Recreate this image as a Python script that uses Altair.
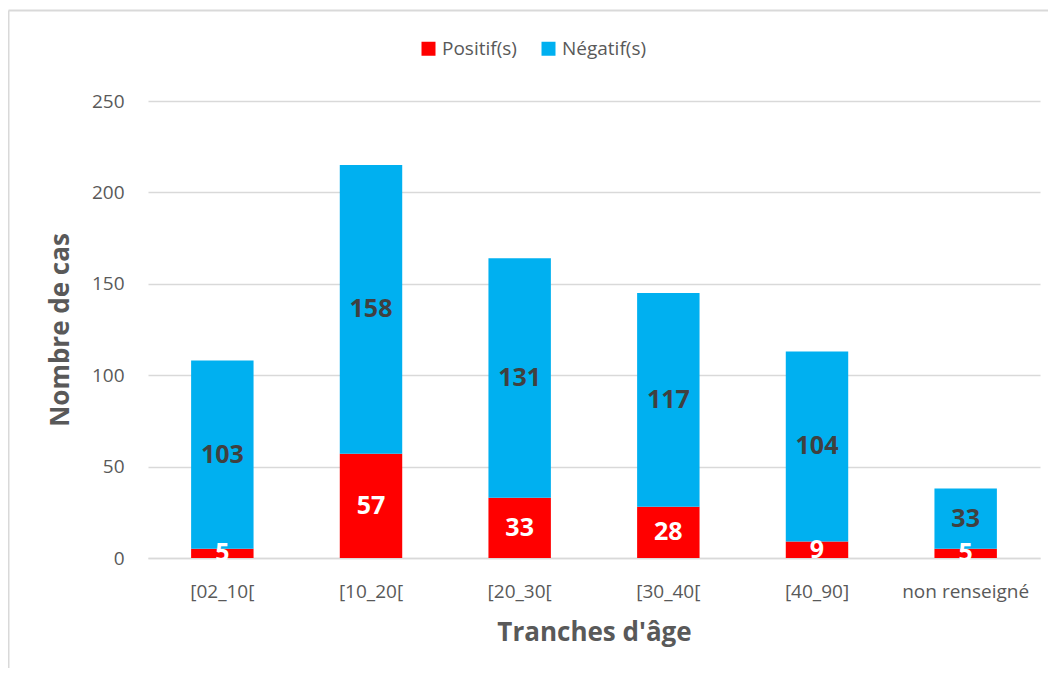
import altair as alt
import pandas as pd

categories = ["[02_10[", "[10_20[", "[20_30[", "[30_40[", "[40_90]", "non renseigné"]
positifs = [5, 57, 33, 28, 9, 5]
negatifs = [103, 158, 131, 117, 104, 33]
series = ["Positif(s)", "Négatif(s)"]
colors = ["#FF0000", "#00B0F0"]
label_colors = ["#FFFFFF", "#404040"]

rows = []
for c, p, n in zip(categories, positifs, negatifs):
    rows.append({"cat": c, "serie": series[0], "val": p, "ord": 0, "lc": label_colors[0]})
    rows.append({"cat": c, "serie": series[1], "val": n, "ord": 1, "lc": label_colors[1]})
df = pd.DataFrame(rows)

FONT = "Open Sans"
GRAY = "#595959"
FRAME = "#D9D9D9"

base = alt.Chart(df).transform_stack(
    stack="val", groupby=["cat"], as_=["y0", "y1"], sort=[alt.SortField("ord", order="ascending")]
).transform_calculate(mid="(datum.y0 + datum.y1) / 2")

yscale = alt.Scale(domain=[0, 250], nice=False)

x_enc = alt.X("cat:N", sort=categories, scale=alt.Scale(paddingInner=0.58, paddingOuter=0.29),
              axis=alt.Axis(title="Tranches d'âge", labelAngle=0, ticks=False,
                            domainColor="#D9D9D9", domainWidth=1.5,
                            labelPadding=24, titlePadding=18))

bars = base.mark_bar().encode(
    x=x_enc,
    y=alt.Y("y0:Q", scale=yscale,
            axis=alt.Axis(title="Nombre de cas", values=[0, 50, 100, 150, 200, 250],
                          domain=False, ticks=False, gridColor="#D9D9D9", gridWidth=1.5,
                          labelPadding=24, titlePadding=18)),
    y2="y1:Q",
    color=alt.Color("serie:N", scale=alt.Scale(domain=series, range=colors),
                    legend=alt.Legend(title=None, orient="none", direction="horizontal",
                                      legendX=271, legendY=-62,
                                      symbolType="square", symbolSize=196,
                                      symbolStrokeWidth=0, columnPadding=22, symbolOffset=0)),
    order=alt.Order("ord:Q"),
)

labels = base.mark_text(fontSize=25, fontWeight="bold", font=FONT, baseline="middle").encode(
    x=alt.X("cat:N", sort=categories),
    y=alt.Y("mid:Q", scale=yscale),
    text=alt.Text("val:Q"),
    color=alt.Color("lc:N", scale=None),
)

# decorative chart-area frame (top and left edges)
frame_df = pd.DataFrame({"k": [0]})
frame_top = alt.Chart(frame_df).mark_rule(color=FRAME, strokeWidth=2).encode(
    x=alt.value(-139.5), x2=alt.value(910), y=alt.value(-90.5))
frame_left = alt.Chart(frame_df).mark_rule(color=FRAME, strokeWidth=2).encode(
    x=alt.value(-139.5), y=alt.value(-90.5), y2=alt.value(580))

chart = alt.layer(bars, labels, frame_top, frame_left).properties(
    width=892, height=457,
    autosize=alt.AutoSizeParams(type="none"),
    padding={"left": 140, "top": 93, "right": 8, "bottom": 110},
).configure(
    background="white", font=FONT
).configure_view(stroke=None).configure_axis(
    labelFont=FONT, labelFontSize=19, labelColor=GRAY,
    titleFont=FONT, titleFontSize=26, titleFontWeight="bold", titleColor=GRAY,
).configure_legend(
    labelFont=FONT, labelFontSize=19, labelColor=GRAY
)

chart.save("out.html", embed_options={"renderer": "svg", "actions": False})
